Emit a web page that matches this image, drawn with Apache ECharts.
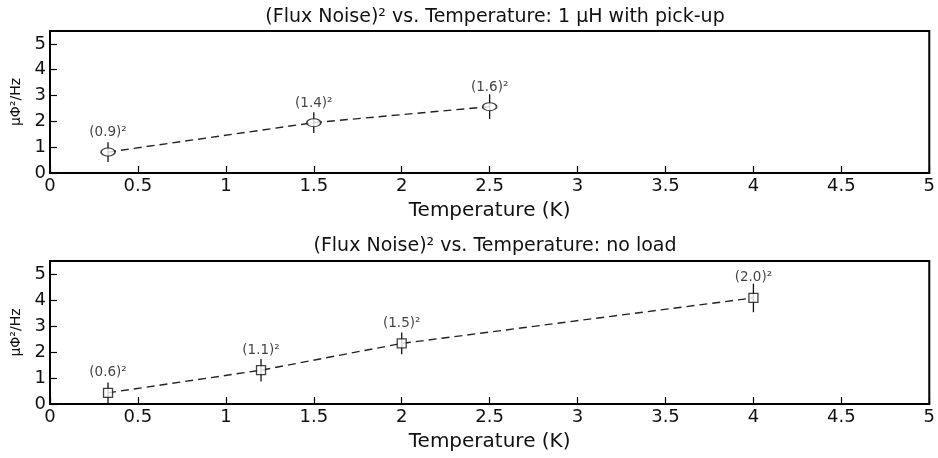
<!DOCTYPE html>
<html><head><meta charset="utf-8">
<script src="https://cdn.jsdelivr.net/npm/echarts@6/dist/echarts.min.js"></script>
<style>html,body{margin:0;padding:0;background:#fff}#c{width:938px;height:458px}</style>
</head><body><div id="c"></div>
<script>
// Top panel: 1 uH with pick-up
const tempTop = [0.33, 1.5, 2.5];
const noiseTop = [0.81, 1.95, 2.57];
const errTop = [0.38, 0.4, 0.48];
const labelsTop = ['(0.9)\u00b2', '(1.4)\u00b2', '(1.6)\u00b2'];
// Bottom panel: no load
const tempBot = [0.33, 1.2, 2.0, 4.0];
const noiseBot = [0.43, 1.3, 2.33, 4.08];
const errBot = [0.4, 0.43, 0.42, 0.55];
const labelsBot = ['(0.6)\u00b2', '(1.1)\u00b2', '(1.5)\u00b2', '(2.0)\u00b2'];
const titles = ['(Flux Noise)\u00b2 vs. Temperature: 1 \u03bcH with pick-up', '(Flux Noise)\u00b2 vs. Temperature: no load'];
const xTicks = ['0','0.5','1','1.5','2','2.5','3','3.5','4','4.5','5'];

const FONT = 'DejaVu Sans';
const chart = echarts.init(document.getElementById('c'));

function xAxis(gi) {
  return {
    gridIndex: gi, type: 'value', min: 0, max: 5, interval: 0.5,
    name: 'Temperature (K)', nameLocation: 'middle', nameGap: 28,
    nameTextStyle: { fontFamily: FONT, fontSize: 20, color: '#111' },
    axisLine: { lineStyle: { color: '#000', width: 2 } },
    axisTick: { inside: true, length: 7, lineStyle: { color: '#000', width: 1.2 } },
    axisLabel: { fontFamily: FONT, fontSize: 18, color: '#111', margin: 4,
      formatter: v => { const i = Math.round(v / 0.5); return xTicks[i] !== undefined ? xTicks[i] : ''; } },
    splitLine: { show: false }
  };
}
function yAxis(gi) {
  return {
    gridIndex: gi, type: 'value', min: 0, max: 5.5, interval: 1,
    name: '\u03bc\u03a6\u00b2/Hz', nameLocation: 'middle', nameGap: 27, nameRotate: 90,
    nameTextStyle: { fontFamily: FONT, fontSize: 14, color: '#111' },
    axisLine: { lineStyle: { color: '#000', width: 2 } },
    axisTick: { inside: true, length: 7, lineStyle: { color: '#000', width: 1.2 } },
    axisLabel: { fontFamily: FONT, fontSize: 18, color: '#111', margin: 4, showMaxLabel: false,
      formatter: v => (Number.isInteger(v) ? String(v) : '') },
    splitLine: { show: false }
  };
}
function errSeries(gi, xs, ys, es) {
  return {
    type: 'custom', xAxisIndex: gi, yAxisIndex: gi, z: 3,
    data: xs.map((x, i) => [x, ys[i], es[i]]),
    renderItem: (params, api) => {
      const x = api.value(0), y = api.value(1), e = api.value(2);
      const p1 = api.coord([x, y + e]), p2 = api.coord([x, y - e]);
      return { type: 'line', shape: { x1: p1[0], y1: p1[1], x2: p2[0], y2: p2[1] },
        style: { stroke: '#111', lineWidth: 1.3 } };
    }
  };
}
function lineSeries(gi, xs, ys) {
  return {
    type: 'line', xAxisIndex: gi, yAxisIndex: gi, z: 2, showSymbol: false, silent: true,
    data: xs.map((x, i) => [x, ys[i]]),
    lineStyle: { color: '#222', width: 1.4, type: [8, 5] }
  };
}
function pointSeries(gi, xs, ys, labels, symbol, size) {
  return {
    type: 'scatter', xAxisIndex: gi, yAxisIndex: gi, z: 4,
    data: xs.map((x, i) => [x, ys[i]]),
    symbol: symbol, symbolSize: size,
    itemStyle: { color: '#fff', borderColor: '#111', borderWidth: 1.3 },
    label: { show: true, position: 'top', distance: 8,
      fontFamily: FONT, fontSize: 13.5, color: '#111',
      formatter: p => labels[p.dataIndex] }
  };
}

chart.setOption({
  animation: false,
  backgroundColor: '#fff',
  title: [
    { text: titles[0], left: 490, top: 3, textAlign: 'center',
      textStyle: { fontFamily: FONT, fontSize: 19, fontWeight: 'normal', color: '#111' } },
    { text: titles[1], left: 490, top: 232, textAlign: 'center',
      textStyle: { fontFamily: FONT, fontSize: 19, fontWeight: 'normal', color: '#111' } }
  ],
  grid: [
    { left: 50, right: 7, top: 31, height: 142, show: true, borderColor: '#000', borderWidth: 2, backgroundColor: 'transparent' },
    { left: 50, right: 7, top: 261, height: 143, show: true, borderColor: '#000', borderWidth: 2, backgroundColor: 'transparent' }
  ],
  xAxis: [xAxis(0), xAxis(1)],
  yAxis: [yAxis(0), yAxis(1)],
  series: [
    lineSeries(0, tempTop, noiseTop),
    errSeries(0, tempTop, noiseTop, errTop),
    pointSeries(0, tempTop, noiseTop, labelsTop, 'circle', [14, 8]),
    lineSeries(1, tempBot, noiseBot),
    errSeries(1, tempBot, noiseBot, errBot),
    pointSeries(1, tempBot, noiseBot, labelsBot, 'rect', [9, 9])
  ]
});
</script></body></html>
